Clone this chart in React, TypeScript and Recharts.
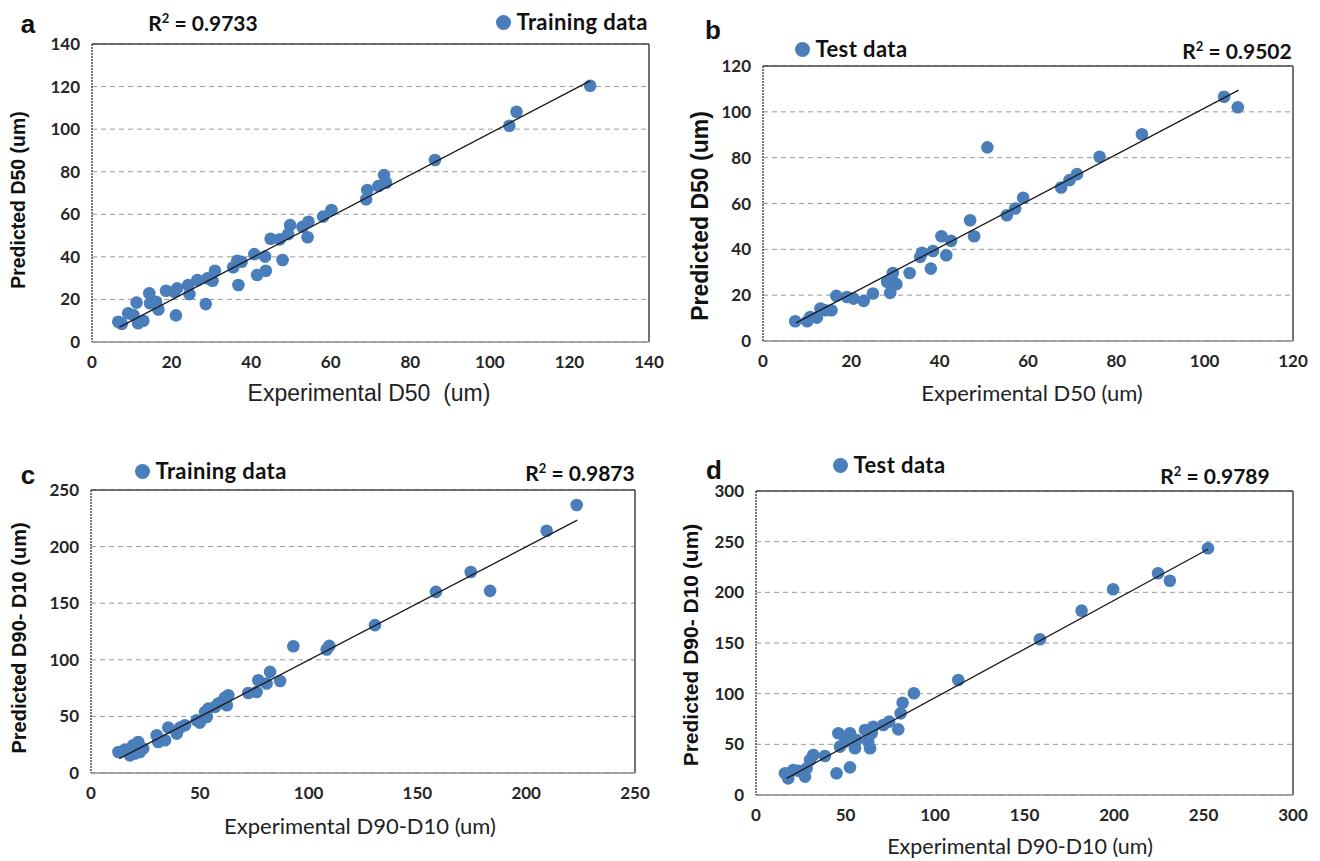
import React from 'react';
import { ScatterChart, Scatter, XAxis, YAxis, CartesianGrid, ReferenceLine } from 'recharts';

const POINT = '#4A7EBB';

// ---- Panel a: training data, D50 ----
const aExp = [6.6, 7.5, 9.1, 10.4, 11.2, 11.6, 12.9, 14.4, 14.6, 16.1, 16.7, 18.6, 21.1, 21.4, 20.7, 24.2, 24.5, 26.5, 28.6, 29.0, 30.3, 30.9, 35.5, 36.5, 37.6, 36.8, 40.8, 41.5, 43.5, 43.7, 44.9, 47.2, 47.9, 49.3, 49.8, 52.9, 54.4, 54.2, 58.1, 60.2, 68.9, 69.2, 72.0, 73.4, 73.9, 86.2, 104.9, 106.7, 125.2];
const aPred = [9.5, 8.5, 13.5, 12.7, 18.5, 8.8, 10.0, 22.9, 18.2, 18.9, 15.3, 24.1, 12.5, 25.2, 23.6, 26.8, 22.5, 29.1, 17.8, 29.9, 28.8, 33.5, 35.1, 38.2, 37.7, 26.8, 41.3, 31.5, 40.1, 33.5, 48.5, 48.2, 38.5, 50.7, 54.9, 54.1, 56.5, 49.2, 58.9, 62.0, 67.0, 71.4, 73.3, 78.4, 74.8, 85.5, 101.6, 108.2, 120.4];
const aFitX = [6.9, 125.2];
const aFitY = [7.0, 122.7];
const aTicks = [0, 20, 40, 60, 80, 100, 120, 140];

// ---- Panel b: test data, D50 ----
const bExp = [7.3, 10.0, 10.7, 12.2, 13.0, 14.1, 15.5, 16.6, 19.0, 20.5, 22.8, 24.9, 28.1, 28.8, 29.4, 29.1, 30.2, 33.2, 35.6, 36.0, 38.0, 38.5, 40.4, 41.5, 42.6, 46.9, 47.8, 50.8, 55.2, 57.1, 58.9, 67.5, 69.4, 71.1, 76.2, 85.8, 104.4, 107.5];
const bPred = [8.6, 8.6, 10.5, 10.2, 14.2, 13.4, 13.4, 19.7, 19.2, 18.5, 17.5, 20.7, 25.8, 21.0, 29.7, 27.0, 24.8, 29.7, 36.7, 38.5, 31.6, 39.3, 45.7, 37.4, 43.7, 52.7, 45.7, 84.5, 54.9, 57.8, 62.5, 67.0, 70.2, 72.8, 80.4, 90.2, 106.6, 102.0];
const bFitX = [7.5, 107.7];
const bFitY = [7.9, 109.5];
const bTicks = [0, 20, 40, 60, 80, 100, 120];

// ---- Panel c: training data, D90-D10 ----
const cExp = [12.6, 15.6, 17.9, 19.4, 20.2, 21.7, 22.5, 24.0, 30.2, 30.9, 34.0, 35.5, 39.4, 40.9, 43.2, 48.6, 50.0, 52.4, 53.2, 53.9, 57.0, 58.5, 60.1, 61.6, 63.1, 62.4, 72.3, 76.1, 76.9, 80.7, 82.3, 86.9, 93.0, 108.3, 109.5, 130.5, 158.5, 174.5, 183.4, 209.4, 223.2];
const cPred = [18.6, 20.7, 15.6, 24.5, 17.2, 27.4, 18.6, 21.6, 33.3, 27.4, 28.9, 40.1, 34.8, 40.1, 42.2, 46.6, 44.5, 53.9, 49.5, 56.9, 58.4, 61.4, 62.8, 66.7, 68.7, 59.9, 70.7, 71.6, 82.0, 79.0, 89.3, 81.3, 112.0, 109.1, 112.3, 130.6, 160.0, 177.5, 160.9, 214.0, 236.7];
const cFitX = [13.0, 223.5];
const cFitY = [12.7, 223.4];
const cTicks = [0, 50, 100, 150, 200, 250];

// ---- Panel d: test data, D90-D10 ----
const dExp = [16.2, 18.0, 20.8, 23.6, 27.4, 28.3, 30.2, 32.0, 38.5, 45.0, 46.0, 46.9, 49.7, 52.5, 52.5, 55.3, 56.2, 60.9, 62.7, 63.7, 65.5, 64.6, 71.1, 74.4, 79.5, 80.8, 81.9, 88.2, 113.0, 158.6, 181.9, 199.5, 224.6, 231.2, 252.5];
const dPred = [21.4, 16.4, 24.7, 24.0, 18.1, 26.3, 34.5, 39.5, 38.5, 21.4, 60.9, 47.7, 52.6, 60.9, 27.3, 46.1, 54.3, 64.1, 52.6, 46.1, 67.4, 60.9, 69.1, 72.4, 64.8, 80.6, 91.1, 100.4, 113.5, 153.7, 181.9, 203.0, 218.8, 211.5, 243.5];
const dFitX = [17.1, 252.5];
const dFitY = [16.4, 242.5];
const dTicks = [0, 50, 100, 150, 200, 250, 300];

const zip = (xs: number[], ys: number[]) => xs.map((x, i) => ({ x, y: ys[i] }));

const tickStyle = { fontSize: 17, fill: '#262626', fontFamily: 'Lato, sans-serif', fontWeight: 700 };

const Dot = (props: any) => {
  const { cx, cy } = props;
  if (cx == null || cy == null) return <g />;
  return <circle cx={cx} cy={cy} r={6.3} fill={POINT} />;
};
const NoDot = () => <g />;

type PanelProps = {
  left: number; top: number; width: number; height: number; yAxisWidth: number;
  margin: { top: number; right: number; bottom: number; left: number };
  max: number; ticks: number[]; points: { x: number; y: number }[]; fit: { x: number; y: number }[];
};

function Panel(p: PanelProps) {
  return (
    <div style={{ position: 'absolute', left: p.left, top: p.top }}>
      <ScatterChart width={p.width} height={p.height} margin={p.margin}>
        <CartesianGrid vertical={false} stroke="#9a9a9a" strokeDasharray="5 4" />
        <XAxis type="number" dataKey="x" domain={[0, p.max]} ticks={p.ticks} tickLine={false} tickSize={6} tickMargin={8}
          axisLine={{ stroke: '#8c8c8c', strokeWidth: 1.5 }} tick={tickStyle} height={30} />
        <YAxis type="number" dataKey="y" domain={[0, p.max]} ticks={p.ticks} tickLine={false} tickSize={6} tickMargin={6}
          width={p.yAxisWidth} axisLine={{ stroke: '#222', strokeDasharray: '2 1', strokeWidth: 1.2 }} tick={tickStyle} />
        <ReferenceLine y={p.max} stroke="#444" strokeWidth={1.5} />
        <ReferenceLine x={p.max} stroke="#444" strokeWidth={1.5} />
        <Scatter data={p.points} shape={Dot} isAnimationActive={false} />
        <Scatter data={p.fit} shape={NoDot} line={{ stroke: '#1a1a1a', strokeWidth: 1.3 }} isAnimationActive={false} />
      </ScatterChart>
    </div>
  );
}

const abs = (x: number, y: number, extra: React.CSSProperties = {}): React.CSSProperties => ({
  position: 'absolute', left: x, top: y, transform: 'translate(-50%, -50%)', whiteSpace: 'nowrap', color: '#111', ...extra,
});
const rot = (x: number, y: number, extra: React.CSSProperties = {}): React.CSSProperties => ({
  position: 'absolute', left: x, top: y, transform: 'translate(-50%, -50%) rotate(-90deg)', whiteSpace: 'nowrap', color: '#111', ...extra,
});

const letter: React.CSSProperties = { fontFamily: 'Liberation Sans, Arial, sans-serif', fontWeight: 700, fontSize: 26, lineHeight: 1 };
const boldLato: React.CSSProperties = { fontFamily: 'Lato, sans-serif', fontWeight: 700, fontSize: 21, lineHeight: 1 };
const arialBold: React.CSSProperties = { fontFamily: 'Liberation Sans, Arial, sans-serif', fontWeight: 700, fontSize: 18, lineHeight: 1 };

const LegendItem = ({ x, y, text }: { x: number; y: number; text: string }) => (
  <div style={{ position: 'absolute', left: x - 7.5, top: y, transform: 'translateY(-50%)', display: 'flex', alignItems: 'center', whiteSpace: 'nowrap' }}>
    <span style={{ display: 'inline-block', width: 15, height: 15, borderRadius: '50%', background: POINT, marginRight: 6 }} />
    <span style={{ ...boldLato, fontSize: 22, letterSpacing: 0.4, color: '#111' }}>{text}</span>
  </div>
);

const R2 = ({ x, y, value }: { x: number; y: number; value: string }) => (
  <div style={{ ...abs(x, y), ...boldLato }}>
    R<sup style={{ fontSize: 13, verticalAlign: 'super', lineHeight: 0 }}>2</sup> = {value}
  </div>
);

const xTitle: React.CSSProperties = { fontFamily: 'Lato, sans-serif', fontSize: 22, color: '#222', lineHeight: 1.15 };

export default function App() {
  return (
    <div style={{ position: 'absolute', left: 0, top: 0, width: 1320, height: 861, background: '#fff', overflow: 'hidden' }}>
      <Panel left={0} top={0} width={672} height={420} yAxisWidth={92}
        margin={{ top: 44, right: 23, bottom: 48, left: 0 }} max={140} ticks={aTicks}
        points={zip(aExp, aPred)} fit={zip(aFitX, aFitY)} />
      <Panel left={660} top={0} width={660} height={420} yAxisWidth={103}
        margin={{ top: 66, right: 27, bottom: 49, left: 0 }} max={120} ticks={bTicks}
        points={zip(bExp, bPred)} fit={zip(bFitX, bFitY)} />
      <Panel left={0} top={430} width={660} height={430} yAxisWidth={91}
        margin={{ top: 60, right: 25, bottom: 57, left: 0 }} max={250} ticks={cTicks}
        points={zip(cExp, cPred)} fit={zip(cFitX, cFitY)} />
      <Panel left={660} top={430} width={660} height={431} yAxisWidth={96}
        margin={{ top: 61, right: 27, bottom: 36, left: 0 }} max={300} ticks={dTicks}
        points={zip(dExp, dPred)} fit={zip(dFitX, dFitY)} />

      {/* panel letters */}
      <div style={{ ...abs(28, 24), ...letter }}>a</div>
      <div style={{ ...abs(713, 30), ...letter }}>b</div>
      <div style={{ ...abs(28, 475), ...letter }}>c</div>
      <div style={{ ...abs(714, 470), ...letter }}>d</div>

      {/* R squared */}
      <R2 x={203} y={22} value="0.9733" />
      <R2 x={1237} y={50} value="0.9502" />
      <R2 x={580} y={472} value="0.9873" />
      <R2 x={1215} y={475} value="0.9789" />

      {/* legends (x = dot centre) */}
      <LegendItem x={503} y={22} text="Training data" />
      <LegendItem x={802} y={49} text="Test data" />
      <LegendItem x={142} y={471} text="Training data" />
      <LegendItem x={840} y={465} text="Test data" />

      {/* axis titles */}
      <div style={{ ...rot(19, 200), ...arialBold, fontSize: 19.5 }}>Predicted D50 (um)</div>
      <div style={{ ...abs(369, 393), fontFamily: 'Liberation Sans, Arial, sans-serif', fontSize: 23, color: '#222', lineHeight: 1.15 }}>Experimental D50&nbsp; (um)</div>

      <div style={{ ...rot(700, 216), ...arialBold, fontSize: 23 }}>Predicted D50 (um)</div>
      <div style={{ ...abs(1032, 393), ...xTitle }}>Experimental D50 (um)</div>

      <div style={{ ...rot(19, 638), ...arialBold, fontSize: 20 }}>Predicted D90- D10 (um)</div>
      <div style={{ ...abs(360, 826), ...xTitle }}>Experimental D90-D10 (um)</div>

      <div style={{ ...rot(690, 645), ...arialBold, fontSize: 21 }}>Predicted D90- D10 (um)</div>
      <div style={{ ...abs(1020, 846), ...xTitle, fontSize: 21.5 }}>Experimental D90-D10 (um)</div>
    </div>
  );
}
